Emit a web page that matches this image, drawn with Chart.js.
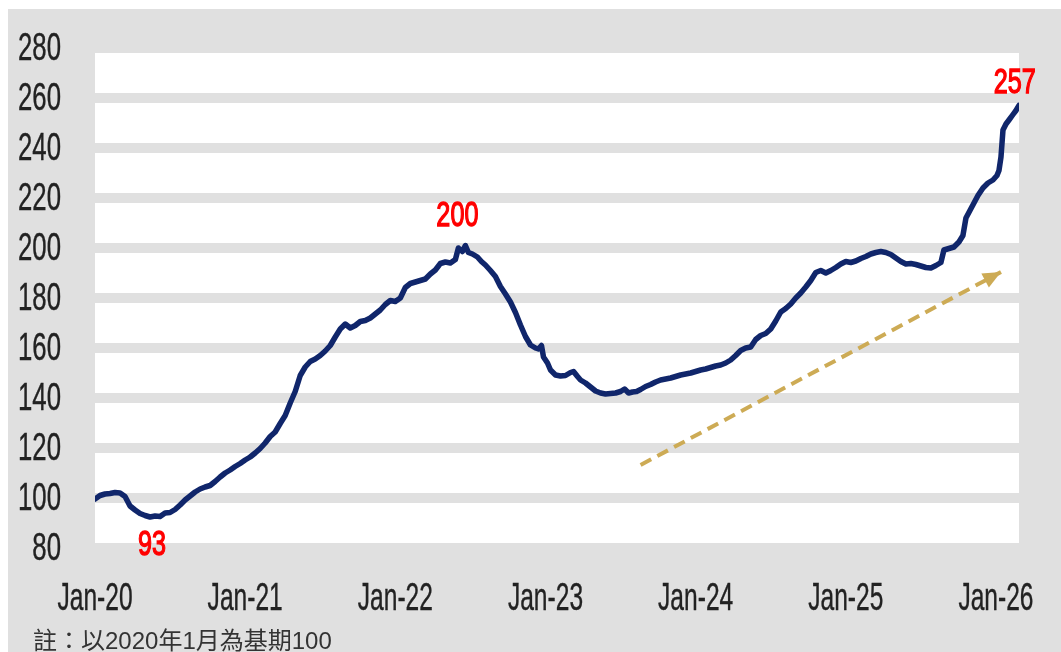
<!DOCTYPE html>
<html>
<head>
<meta charset="utf-8">
<script src="https://cdn.jsdelivr.net/npm/chart.js@4/dist/chart.umd.min.js"></script>
<style>
  html, body { margin: 0; padding: 0; background: #ffffff; }
  #cadre {
    position: absolute; left: 8px; top: 9px;
    width: 1053px; height: 643px;
    background: #e0e0e0;
  }
  #graphique { display: block; }
  #note {
    position: absolute; left: 25px; top: 612px;
    font-family: 'Liberation Sans', 'Noto Sans CJK TC', sans-serif;
    font-size: 24px; color: #333333; white-space: nowrap;
  }
</style>
</head>
<body>
<div id="cadre">
  <canvas id="graphique" width="1053" height="643"></canvas>
  <div id="note">註：以2020年1月為基期100</div>
</div>
<script>
// --------------------------------------------------------------------------
//   Indice (janv. 2020 = 100)
//   Axe X : mois depuis janv. 2020 | Axe Y : indice
// --------------------------------------------------------------------------

const etiquettesX = ['Jan-20', 'Jan-21', 'Jan-22', 'Jan-23', 'Jan-24', 'Jan-25', 'Jan-26'];

const mois = [
    0.0, 0.4, 0.8, 1.2, 1.6, 2.0, 2.4, 2.8, 3.2, 3.6,
    4.0, 4.4, 4.8, 5.2, 5.6, 6.0, 6.4, 6.8, 7.2, 7.6,
    8.0, 8.4, 8.8, 9.2, 9.6, 10.0, 10.4, 10.8, 11.2, 11.6,
    12.0, 12.4, 12.8, 13.2, 13.6, 14.0, 14.4, 14.8, 15.2, 15.6,
    16.0, 16.4, 16.8, 17.2, 17.6, 18.0, 18.4, 18.8, 19.2, 19.6,
    20.0, 20.4, 20.8, 21.2, 21.6, 22.0, 22.4, 22.8, 23.2, 23.6,
    24.0, 24.4, 24.8, 25.2, 25.6, 26.0, 26.4, 26.8, 27.2, 27.6,
    28.0, 28.4, 28.8, 29.04, 29.36, 29.6, 29.84, 30.16, 30.56, 30.88,
    31.2, 31.6, 32.0, 32.4, 32.8, 33.2, 33.6, 34.0, 34.4, 34.8,
    35.2, 35.44, 35.68, 35.84, 36.16, 36.4, 36.8, 37.2, 37.6, 38.0,
    38.24, 38.56, 38.8, 39.2, 39.6, 40.0, 40.4, 40.8, 41.2, 41.6,
    42.0, 42.32, 42.64, 42.96, 43.28, 43.6, 44.0, 44.4, 44.8, 45.2,
    45.6, 46.0, 46.4, 46.8, 47.2, 47.6, 48.0, 48.4, 48.8, 49.2,
    49.6, 50.0, 50.4, 50.8, 51.2, 51.6, 52.0, 52.4, 52.8, 53.2,
    53.6, 54.0, 54.4, 54.8, 55.2, 55.6, 56.0, 56.4, 56.8, 57.2,
    57.6, 58.0, 58.4, 58.8, 59.2, 59.6, 60.0, 60.4, 60.8, 61.2,
    61.6, 62.0, 62.4, 62.8, 63.2, 63.6, 64.0, 64.4, 64.8, 65.2,
    65.6, 66.0, 66.4, 66.8, 67.2, 67.6, 67.84, 68.24, 68.64, 69.04,
    69.36, 69.6, 69.92, 70.24, 70.56, 70.96, 71.36, 71.76, 72.08, 72.24,
    72.4, 72.56, 72.8, 73.04, 73.36, 73.6, 73.84
];

const indice = [
    99.6, 101.0, 101.6, 101.8, 102.2, 102.0, 100.6, 96.8, 95.2, 93.8,
    93.0, 92.4, 92.8, 92.6, 94.0, 94.2, 95.4, 97.2, 99.2, 100.8,
    102.4, 103.6, 104.4, 105.0, 106.6, 108.4, 110.0, 111.2, 112.6, 113.8,
    115.2, 116.4, 118.0, 119.8, 122.0, 124.6, 126.4, 129.8, 133.0, 138.0,
    142.6, 149.0, 152.4, 154.6, 155.6, 157.0, 158.8, 161.0, 164.4, 167.6,
    169.6, 168.0, 169.0, 170.6, 171.0, 172.0, 173.6, 175.2, 177.4, 179.0,
    178.6, 180.0, 184.2, 185.8, 186.4, 187.0, 187.6, 189.6, 191.2, 193.8,
    194.4, 194.0, 195.4, 200.0, 198.6, 201.0, 198.2, 197.6, 196.4, 194.6,
    193.2, 191.0, 188.6, 184.6, 181.6, 178.4, 174.2, 169.2, 164.6, 161.2,
    160.0, 159.6, 161.0, 156.4, 154.0, 151.2, 149.2, 148.8, 149.0, 150.2,
    150.6, 148.6, 147.2, 146.0, 144.4, 142.8, 142.0, 141.6, 141.8, 142.0,
    142.6, 143.6, 142.0, 142.4, 142.6, 143.4, 144.6, 145.4, 146.4, 147.2,
    147.6, 148.0, 148.6, 149.2, 149.6, 150.0, 150.6, 151.2, 151.6, 152.2,
    152.8, 153.2, 154.0, 155.2, 157.0, 159.0, 160.0, 160.4, 163.4, 165.0,
    165.8, 167.6, 170.8, 174.4, 175.8, 177.6, 180.0, 182.0, 184.4, 187.0,
    190.2, 191.0, 190.0, 191.0, 192.2, 193.6, 194.6, 194.2, 194.8, 195.8,
    196.6, 197.6, 198.2, 198.6, 198.2, 197.4, 196.0, 194.6, 193.6, 193.8,
    193.4, 192.8, 192.2, 192.0, 193.0, 194.2, 199.2, 199.8, 200.4, 202.4,
    205.0, 212.0, 215.0, 218.0, 221.0, 224.0, 226.0, 227.2, 229.0, 231.0,
    236.4, 247.2, 249.6, 251.2, 253.4, 255.0, 257.0
];

// Flèche de tendance (début -> pointe), en coordonnées de données
const flecheMois   = [43.6, 72.4];
const flecheIndice = [113.2, 190.4];

// Étiquettes rouges : texte, mois, indice où elles sont posées
const notesTexte  = ['93', '200', '257'];
const notesMois   = [4.56, 28.96, 73.5];
const notesIndice = [82.4, 214.0, 267.2];

const POLICE = "'Liberation Sans', Arial, sans-serif";
const GRIS = '#e0e0e0';

// Texte resserré horizontalement (police condensée de l'original)
function texteEtroit(ctx, txt, x, y, echelle, align, epais) {
    ctx.save();
    ctx.translate(x, y);
    ctx.scale(echelle, 1);
    ctx.textAlign = align;
    ctx.textBaseline = 'alphabetic';
    ctx.fillText(txt, 0, 0);
    if (epais) {
        ctx.lineWidth = epais;
        ctx.strokeStyle = ctx.fillStyle;
        ctx.strokeText(txt, 0, 0);
    }
    ctx.restore();
}

// Fond blanc de la zone de tracé, posé avant les bandes grises
const fondZone = {
    id: 'fondZone',
    beforeDraw(chart) {
        const { ctx, chartArea: a } = chart;
        ctx.save();
        ctx.fillStyle = '#ffffff';
        ctx.fillRect(a.left, a.top, a.right - a.left, a.bottom - a.top);
        ctx.restore();
    }
};

// Libellés des axes, pointe de flèche, étiquettes rouges
const decor = {
    id: 'decor',
    afterDatasetsDraw(chart) {
        const { ctx, chartArea: a, scales: { x, y } } = chart;

        ctx.save();
        ctx.fillStyle = '#222222';
        ctx.font = '39px ' + POLICE;
        y.ticks.forEach(t => {
            texteEtroit(ctx, String(t.value), a.left - 34, y.getPixelForValue(t.value) + 12, 0.66, 'right', 0.4);
        });
        x.ticks.forEach((t, i) => {
            texteEtroit(ctx, etiquettesX[i], x.getPixelForValue(t.value), a.bottom + 62, 0.63, 'center', 0.4);
        });

        const x0 = x.getPixelForValue(flecheMois[0]), y0 = y.getPixelForValue(flecheIndice[0]);
        const x1 = x.getPixelForValue(flecheMois[1]), y1 = y.getPixelForValue(flecheIndice[1]);
        const ang = Math.atan2(y1 - y0, x1 - x0);
        const L = 18, W = 8;
        ctx.fillStyle = '#cdab55';
        ctx.beginPath();
        ctx.moveTo(x1, y1);
        ctx.lineTo(x1 - L * Math.cos(ang) + W * Math.sin(ang), y1 - L * Math.sin(ang) - W * Math.cos(ang));
        ctx.lineTo(x1 - L * Math.cos(ang) - W * Math.sin(ang), y1 - L * Math.sin(ang) + W * Math.cos(ang));
        ctx.closePath();
        ctx.fill();

        ctx.fillStyle = '#ff0000';
        ctx.font = '35px ' + POLICE;
        notesTexte.forEach((t, i) => {
            texteEtroit(ctx, t, x.getPixelForValue(notesMois[i]), y.getPixelForValue(notesIndice[i]) + 12.5, 0.72, 'center', 1.4);
        });
        ctx.restore();
    }
};

const ctx = document.getElementById('graphique');

const monGraphique = new Chart(ctx, {
    type: 'line',
    data: {
        datasets: [{
            label: 'Indice',
            data: mois.map((m, i) => ({ x: m, y: indice[i] })),
            borderColor: '#10266b',
            borderWidth: 5.5,
            pointRadius: 0,
            tension: 0,
            borderJoinStyle: 'round',
            borderCapStyle: 'round'
        }, {
            label: 'Tendance',
            data: flecheMois.map((m, i) => ({ x: m, y: flecheIndice[i] })),
            borderColor: '#cdab55',
            borderWidth: 4,
            borderDash: [12, 7],
            pointRadius: 0
        }]
    },
    options: {
        responsive: false,
        animation: false,
        layout: { padding: { top: 39, right: 42, bottom: 0, left: 0 } },
        plugins: {
            legend: { display: false },
            tooltip: { enabled: false }
        },
        scales: {
            x: {
                type: 'linear',
                min: 0,
                max: 73.84,
                afterBuildTicks: (s) => { s.ticks = etiquettesX.map((_, i) => ({ value: i * 12 })); },
                afterFit: (s) => { s.height = 104; },
                grid: { display: false, drawTicks: false },
                border: { display: false },
                ticks: { display: false }
            },
            y: {
                min: 80,
                max: 280,
                afterFit: (s) => { s.width = 87; },
                grid: { color: GRIS, lineWidth: 10, drawTicks: false },
                border: { display: false },
                ticks: { display: false, stepSize: 20 }
            }
        }
    },
    plugins: [fondZone, decor]
});
</script>
</body>
</html>
